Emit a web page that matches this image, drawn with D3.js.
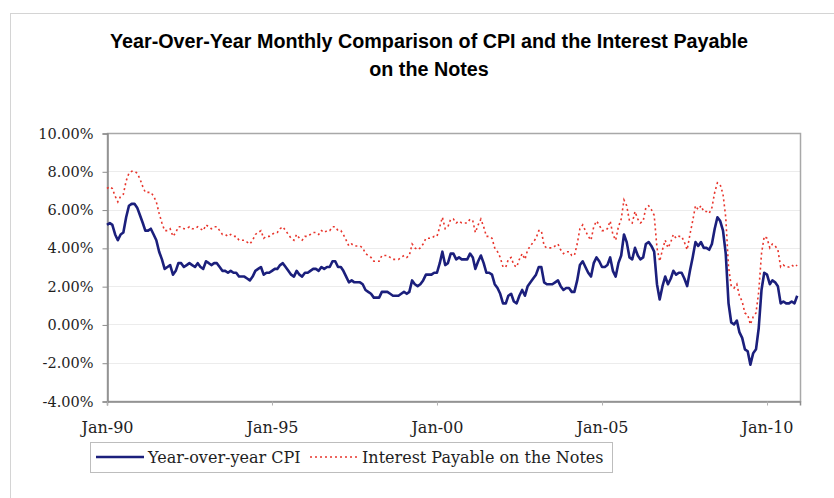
<!DOCTYPE html>
<html>
<head>
<meta charset="utf-8">
<script src="https://cdn.jsdelivr.net/npm/d3@7"></script>
<style>
  body { margin: 0; background: #fff; }
  svg { display: block; }
</style>
</head>
<body>
<svg id="chart" width="834" height="498"></svg>
<script>
// Monthly series, Jan-1990 through Dec-2010
var startYear = 1990;

var cpi = [
  5.2, 5.3, 5.2, 4.7, 4.4, 4.7, 4.8, 5.6, 6.2, 6.3, 6.3, 6.1,
  5.7, 5.3, 4.9, 4.9, 5.0, 4.7, 4.4, 3.8, 3.4, 2.9, 3.0, 3.1,
  2.6, 2.8, 3.2, 3.2, 3.0, 3.1, 3.2, 3.1, 3.0, 3.2, 3.0, 2.9,
  3.3, 3.2, 3.1, 3.2, 3.2, 3.0, 2.8, 2.8, 2.7, 2.8, 2.7, 2.7,
  2.5, 2.5, 2.5, 2.4, 2.3, 2.5, 2.8, 2.9, 3.0, 2.6, 2.7, 2.7,
  2.8, 2.9, 2.9, 3.1, 3.2, 3.0, 2.8, 2.6, 2.5, 2.8, 2.6, 2.5,
  2.7, 2.7, 2.8, 2.9, 2.9, 2.8, 3.0, 2.9, 3.0, 3.0, 3.3, 3.3,
  3.0, 3.0, 2.8, 2.5, 2.2, 2.3, 2.2, 2.2, 2.2, 2.1, 1.8, 1.7,
  1.6, 1.4, 1.4, 1.4, 1.7, 1.7, 1.7, 1.6, 1.5, 1.5, 1.5, 1.6,
  1.7, 1.6, 1.7, 2.3, 2.1, 2.0, 2.1, 2.3, 2.6, 2.6, 2.6, 2.7,
  2.7, 3.2, 3.8, 3.1, 3.2, 3.7, 3.7, 3.4, 3.5, 3.4, 3.4, 3.4,
  3.7, 3.5, 2.9, 3.3, 3.6, 3.2, 2.7, 2.7, 2.6, 2.1, 1.9, 1.6,
  1.1, 1.1, 1.5, 1.6, 1.2, 1.1, 1.5, 1.8, 1.5, 2.0, 2.2, 2.4,
  2.6, 3.0, 3.0, 2.2, 2.1, 2.1, 2.1, 2.2, 2.3, 2.0, 1.8, 1.9,
  1.9, 1.7, 1.7, 2.3, 3.1, 3.3, 3.0, 2.7, 2.5, 3.2, 3.5, 3.3,
  3.0, 3.0, 3.1, 3.5, 2.8, 2.5, 3.2, 3.6, 4.7, 4.3, 3.5, 3.4,
  4.0, 3.6, 3.4, 3.5, 4.2, 4.3, 4.1, 3.8, 2.1, 1.3, 2.0, 2.5,
  2.1, 2.4, 2.8, 2.6, 2.7, 2.7, 2.4, 2.0, 2.8, 3.5, 4.3, 4.1,
  4.3, 4.0, 4.0, 3.9, 4.2, 5.0, 5.6, 5.4, 4.9, 3.7, 1.1, 0.1,
  0.0, 0.2, -0.4, -0.7, -1.3, -1.4, -2.1, -1.5, -1.3, -0.2, 1.8, 2.7,
  2.6, 2.1, 2.3, 2.2, 2.0, 1.1, 1.2, 1.1, 1.1, 1.2, 1.1, 1.5
];

var interest = [
  7.1, 7.2, 7.1, 6.7, 6.4, 6.7, 6.8, 7.5, 7.9, 8.0, 8.0, 7.9,
  7.6, 7.2, 6.9, 6.9, 6.9, 6.7, 6.4, 5.8, 5.3, 4.9, 4.9, 5.0,
  4.6, 4.8, 5.1, 5.1, 5.0, 5.0, 5.1, 5.0, 5.0, 5.1, 5.0, 4.9,
  5.2, 5.1, 5.0, 5.1, 5.1, 4.9, 4.7, 4.7, 4.6, 4.7, 4.6, 4.6,
  4.4, 4.4, 4.4, 4.3, 4.2, 4.4, 4.7, 4.8, 4.9, 4.5, 4.6, 4.6,
  4.7, 4.8, 4.8, 5.0, 5.1, 4.9, 4.7, 4.5, 4.4, 4.7, 4.5, 4.4,
  4.6, 4.6, 4.7, 4.8, 4.8, 4.7, 4.9, 4.8, 4.9, 4.9, 5.1, 5.1,
  4.9, 4.9, 4.7, 4.4, 4.1, 4.2, 4.1, 4.1, 4.1, 4.0, 3.7, 3.6,
  3.5, 3.3, 3.3, 3.3, 3.6, 3.6, 3.6, 3.5, 3.4, 3.4, 3.4, 3.5,
  3.6, 3.5, 3.6, 4.2, 4.0, 3.9, 4.0, 4.2, 4.5, 4.5, 4.5, 4.6,
  4.6, 5.1, 5.6, 5.0, 5.1, 5.5, 5.5, 5.3, 5.4, 5.3, 5.3, 5.3,
  5.5, 5.4, 4.8, 5.2, 5.5, 5.1, 4.6, 4.6, 4.5, 4.0, 3.8, 3.5,
  3.0, 3.0, 3.4, 3.5, 3.1, 3.0, 3.4, 3.7, 3.4, 3.9, 4.1, 4.3,
  4.5, 4.9, 4.9, 4.1, 4.0, 4.0, 4.0, 4.1, 4.2, 3.9, 3.7, 3.8,
  3.8, 3.6, 3.6, 4.2, 5.0, 5.2, 4.9, 4.6, 4.4, 5.1, 5.4, 5.2,
  4.9, 4.9, 5.0, 5.4, 4.7, 4.4, 5.1, 5.5, 6.5, 6.2, 5.4, 5.3,
  5.9, 5.5, 5.3, 5.4, 6.1, 6.2, 6.0, 5.7, 4.0, 3.3, 3.9, 4.4,
  4.0, 4.3, 4.7, 4.5, 4.6, 4.6, 4.3, 3.9, 4.7, 5.4, 6.2, 6.0,
  6.2, 5.9, 5.9, 5.8, 6.1, 6.9, 7.4, 7.3, 6.8, 5.6, 3.0, 2.0,
  1.9, 2.1, 1.5, 1.2, 0.6, 0.5, 0.0, 0.4, 0.6, 1.7, 3.7, 4.6,
  4.5, 4.0, 4.2, 4.1, 3.9, 3.0, 3.1, 3.0, 3.0, 3.1, 3.0, 3.1
];

var xTickYears = [1990, 1995, 2000, 2005, 2010];
var yTicks = [-4, -2, 0, 2, 4, 6, 8, 10];
var seriesNames = ["Year-over-year CPI", "Interest Payable on the Notes"];
var titleLines = ["Year-Over-Year Monthly Comparison of CPI and the Interest Payable", "on the Notes"];

// Plot box
var plotLeft = 107, plotTop = 133, plotRight = 800, plotBottom = 401;
var blue = "#1b1f7c", red = "#e8352c";
var serif = "'DejaVu Serif', serif";

var svg = d3.select("#chart");

// Outer chart frame (runs off the picture to the right and bottom)
svg.append("rect")
    .attr("x", 10.5).attr("y", 13.5)
    .attr("width", 900).attr("height", 600)
    .style("fill", "#fff")
    .style("stroke", "#d4d4d4");

// Title, condensed to fit the original width
var title = svg.append("g")
    .style("font-family", "'Liberation Sans', Arial, sans-serif")
    .style("font-weight", "bold")
    .style("font-size", "20px");
var titleText = title.selectAll("text").data(titleLines).enter()
    .append("text")
    .attr("x", 429)
    .attr("y", function (d, i) { return 48 + i * 28; })
    .attr("text-anchor", "middle")
    .text(function (d) { return d; });
var squeeze = 638 / titleText.node().getComputedTextLength();
titleText.each(function () {
    d3.select(this)
        .attr("textLength", this.getComputedTextLength() * squeeze)
        .attr("lengthAdjust", "spacingAndGlyphs");
});

var monthDate = function (i) { return new Date(startYear, i, 1); };

var x = d3.scaleTime()
    .domain([new Date(1990, 0, 1), new Date(2011, 0, 1)])
    .range([plotLeft, plotRight]);
var y = d3.scaleLinear()
    .domain([-4, 10])
    .range([plotBottom, plotTop]);

// Gridlines
svg.append("g").selectAll("line").data(yTicks).enter()
    .append("line")
    .attr("x1", plotLeft).attr("x2", plotRight)
    .attr("y1", function (d) { return Math.round(y(d)) + 0.5; })
    .attr("y2", function (d) { return Math.round(y(d)) + 0.5; })
    .style("stroke", "#ececec");

// Plot border
svg.append("rect")
    .attr("x", plotLeft + 0.5).attr("y", plotTop + 0.5)
    .attr("width", plotRight - plotLeft).attr("height", plotBottom - plotTop)
    .style("fill", "none")
    .style("stroke", "#a8a8a8")
    .style("stroke-width", 1.5);

// Y axis
var yAxis = svg.append("g")
    .attr("transform", "translate(" + (plotLeft + 0.5) + ",0.5)")
    .call(d3.axisLeft(y)
        .tickValues(yTicks)
        .tickSize(5)
        .tickPadding(9)
        .tickFormat(function (d) { return d.toFixed(2) + "%"; }));
yAxis.select(".domain").style("stroke", "#8c8c8c").style("stroke-width", 1.5);
yAxis.selectAll(".tick line").style("stroke", "#8c8c8c");
yAxis.selectAll("text")
    .style("font-family", serif)
    .style("font-size", "14.5px")
    .style("fill", "#1e1e1e");

// X axis
var xAxis = svg.append("g")
    .attr("transform", "translate(0," + (plotBottom + 0.5) + ")")
    .call(d3.axisBottom(x)
        .tickValues(xTickYears.map(function (yr) { return new Date(yr, 0, 1); }))
        .tickSize(4)
        .tickPadding(16)
        .tickFormat(d3.timeFormat("%b-%y")));
xAxis.select(".domain").style("stroke", "#8c8c8c").style("stroke-width", 1.5);
xAxis.selectAll(".tick line").style("stroke", "#b0b0b0");
xAxis.selectAll("text")
    .style("font-family", serif)
    .style("font-size", "16px")
    .style("fill", "#1e1e1e");

// Series lines
var line = d3.line()
    .x(function (d, i) { return x(monthDate(i)); })
    .y(function (d) { return y(d); });

svg.append("path")
    .datum(interest)
    .attr("d", line)
    .style("fill", "none")
    .style("stroke", red)
    .style("stroke-width", 1.6)
    .style("stroke-dasharray", "2,3");

svg.append("path")
    .datum(cpi)
    .attr("d", line)
    .style("fill", "none")
    .style("stroke", blue)
    .style("stroke-width", 2.6)
    .style("stroke-linejoin", "round");

// Legend
var legend = svg.append("g");
legend.append("rect")
    .attr("x", 90.5).attr("y", 442.5)
    .attr("width", 522).attr("height", 30)
    .style("fill", "#fff")
    .style("stroke", "#bdbdbd");

var legendItems = [
    { name: seriesNames[0], x0: 96, x1: 144, tx: 148, color: blue, width: 2.6, dash: null },
    { name: seriesNames[1], x0: 310, x1: 357, tx: 362, color: red, width: 1.6, dash: "2,3" }
];
legendItems.forEach(function (d) {
    legend.append("line")
        .attr("x1", d.x0).attr("x2", d.x1)
        .attr("y1", 457).attr("y2", 457)
        .style("stroke", d.color)
        .style("stroke-width", d.width)
        .style("stroke-dasharray", d.dash);
    legend.append("text")
        .attr("x", d.tx).attr("y", 462.5)
        .style("font-family", serif)
        .style("font-size", "16px")
        .style("fill", "#1e1e1e")
        .text(d.name);
});
</script>
</body>
</html>
